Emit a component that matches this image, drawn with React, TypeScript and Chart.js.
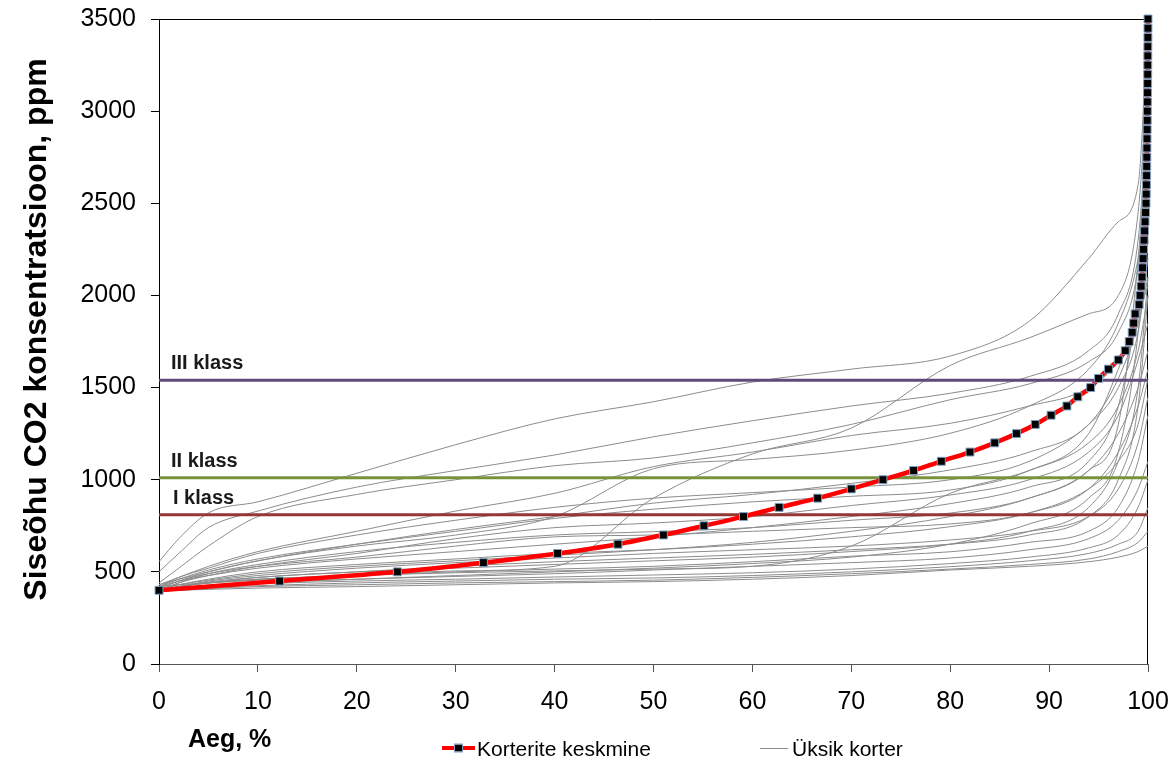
import React, { useEffect, useRef } from "react";
import { Chart, registerables } from "chart.js";

Chart.register(...registerables);

// ---- Data ----
const TIME_KNOTS = [0, 2, 5, 10, 20, 30, 40, 50, 60, 70, 80, 88, 94, 97, 99, 100];

const APT_01 = [555, 680, 820, 880, 1035, 1190, 1330, 1423, 1530, 1600, 1671, 1860, 2200, 2400, 2600, 3500];
const APT_02 = [500, 600, 740, 830, 960, 1050, 1134, 1233, 1320, 1400, 1469, 1560, 1700, 1900, 2300, 3000];
const APT_03 = [440, 520, 640, 800, 920, 1000, 1076, 1118, 1200, 1300, 1434, 1520, 1640, 1800, 2150, 2700];
const APT_04 = [430, 470, 530, 610, 720, 830, 926, 1071, 1150, 1240, 1306, 1400, 1500, 1650, 1900, 2300];
const APT_05 = [420, 430, 440, 455, 480, 505, 530, 900, 1140, 1280, 1620, 1770, 1900, 2000, 2450, 3200];
const APT_06 = [430, 460, 500, 560, 640, 700, 800, 1060, 1110, 1160, 1252, 1400, 1600, 1850, 2200, 2600];
const APT_07 = [420, 470, 520, 600, 700, 780, 850, 900, 930, 960, 1000, 1100, 1300, 1500, 1800, 2200];
const APT_08 = [410, 450, 500, 560, 650, 730, 800, 873, 920, 980, 1053, 1150, 1300, 1550, 1850, 2100];
const APT_09 = [420, 460, 510, 570, 650, 720, 790, 840, 880, 910, 944, 1050, 1250, 1600, 1900, 2050];
const APT_10 = [400, 440, 480, 530, 600, 680, 740, 765, 800, 860, 917, 1000, 1150, 1350, 1650, 1850];
const APT_11 = [400, 440, 490, 540, 610, 660, 700, 718, 740, 780, 819, 900, 1050, 1250, 1500, 1700];
const APT_12 = [410, 450, 490, 530, 580, 640, 690, 700, 720, 740, 760, 820, 950, 1150, 1400, 1600];
const APT_13 = [400, 420, 440, 460, 480, 495, 505, 515, 530, 640, 926, 1050, 1200, 1400, 1700, 2000];
const APT_14 = [400, 410, 425, 440, 460, 480, 500, 520, 545, 580, 650, 760, 900, 1150, 1800, 2500];
const APT_15 = [400, 430, 460, 500, 540, 570, 600, 620, 650, 690, 745, 820, 950, 1100, 1300, 1550];
const APT_16 = [400, 420, 450, 480, 520, 550, 575, 600, 620, 640, 673, 720, 800, 950, 1200, 1450];
const APT_17 = [400, 420, 440, 470, 500, 530, 555, 575, 595, 620, 650, 700, 800, 1000, 1400, 2000];
const APT_18 = [400, 420, 440, 460, 480, 500, 515, 530, 555, 585, 609, 660, 720, 850, 1100, 1350];
const APT_19 = [400, 410, 425, 440, 460, 475, 490, 510, 530, 550, 575, 620, 680, 780, 950, 1100];
const APT_20 = [400, 410, 420, 435, 450, 460, 472, 483, 495, 515, 545, 580, 630, 700, 850, 1000];
const APT_21 = [395, 405, 415, 425, 440, 450, 460, 467, 480, 500, 528, 560, 600, 650, 720, 850];
const APT_22 = [395, 400, 410, 420, 430, 440, 447, 455, 470, 490, 515, 540, 570, 610, 660, 720];
const APT_23 = [395, 400, 405, 412, 420, 430, 440, 447, 460, 480, 510, 530, 555, 580, 610, 640];
const APT_24 = [410, 430, 455, 490, 530, 560, 590, 620, 660, 720, 800, 900, 1050, 1300, 2200, 2900];
const APT_25 = [420, 450, 480, 520, 570, 610, 650, 690, 740, 800, 870, 960, 1100, 1400, 2000, 2600];
const APT_26 = [400, 420, 445, 470, 500, 520, 540, 560, 580, 610, 650, 720, 850, 1100, 1500, 2100];

const APARTMENTS = [
  APT_01, APT_02, APT_03, APT_04, APT_05, APT_06, APT_07, APT_08, APT_09,
  APT_10, APT_11, APT_12, APT_13, APT_14, APT_15, APT_16, APT_17, APT_18,
  APT_19, APT_20, APT_21, APT_22, APT_23, APT_24, APT_25, APT_26,
];

const MEAN_PPM = [
  400, 450, 500, 550, 600, 650, 700, 750, 800, 850, 900, 950, 1000, 1050, 1100, 1150,
  1200, 1250, 1300, 1350, 1400, 1450, 1500, 1550, 1600, 1650, 1700, 1750, 1800, 1850,
  1900, 1950, 2000, 2050, 2100, 2150, 2200, 2250, 2300, 2350, 2400, 2450, 2500, 2550,
  2600, 2650, 2700, 2750, 2800, 2850, 2900, 2950, 3000, 3050, 3100, 3150, 3200, 3250,
  3300, 3350, 3400, 3450, 3500,
];
const MEAN_TIME = [
  0, 12.2, 24.1, 32.8, 40.3, 46.4, 51.0, 55.1, 59.1, 62.7, 66.6, 70.0, 73.2, 76.3, 79.1, 82.0,
  84.5, 86.7, 88.6, 90.2, 91.8, 92.9, 94.2, 95.0, 96.0, 97.0, 97.7, 98.1, 98.4, 98.55,
  98.7, 99.1, 99.2, 99.3, 99.4, 99.45, 99.5, 99.55, 99.6, 99.65, 99.7, 99.75, 99.8, 99.82,
  99.84, 99.86, 99.87, 99.88, 99.89, 99.9, 99.91, 99.92, 99.93, 99.94, 99.95, 99.96, 99.97,
  99.975, 99.98, 99.985, 99.99, 99.995, 100,
];

const CLASS_NAMES = ["I klass", "II klass", "III klass"];
const CLASS_LEVELS = [810, 1010, 1540];
const CLASS_COLORS = ["#953735", "#77933c", "#604a7b"];

const X_MIN = 0;
const X_MAX = 100;
const X_STEP = 10;
const Y_MIN = 0;
const Y_MAX = 3500;
const Y_STEP = 500;

const X_TITLE = "Aeg, %";
const Y_TITLE = "Siseõhu CO2 konsentratsioon, ppm";
const MEAN_LABEL = "Korterite keskmine";
const APT_LABEL = "Üksik korter";

const FONT = "'Liberation Sans', Arial, sans-serif";
const GRAY = "#8c8c8c";

const overlayPlugin = {
  id: "overlay",
  beforeDatasetsDraw(chart: any) {
    const { ctx, chartArea: a } = chart;
    ctx.save();
    ctx.strokeStyle = "#000";
    ctx.lineWidth = 1;
    ctx.beginPath();
    ctx.moveTo(a.left, a.top + 0.5);
    ctx.lineTo(a.right, a.top + 0.5);
    ctx.moveTo(a.right - 0.5, a.top);
    ctx.lineTo(a.right - 0.5, a.bottom);
    ctx.stroke();
    ctx.restore();
  },
  afterDraw(chart: any) {
    const { ctx, chartArea: a, scales } = chart;
    const xs = scales.x;
    const ys = scales.y;
    ctx.save();
    // class labels
    ctx.fillStyle = "#1a1a1a";
    ctx.font = `bold 20px ${FONT}`;
    ctx.textAlign = "left";
    ctx.textBaseline = "alphabetic";
    CLASS_NAMES.forEach((name, i) => {
      const px = xs.getPixelForValue(X_MIN) + (i === 0 ? 14 : 12);
      const py = ys.getPixelForValue(CLASS_LEVELS[i]) - 11;
      ctx.fillText(name, px, py);
    });
    // y title
    ctx.save();
    ctx.translate(37, (a.top + a.bottom) / 2 - 12);
    ctx.rotate(-Math.PI / 2);
    ctx.font = `bold 32px ${FONT}`;
    ctx.fillStyle = "#000";
    ctx.textAlign = "center";
    ctx.textBaseline = "middle";
    ctx.fillText(Y_TITLE, 0, 0);
    ctx.restore();
    // x title
    ctx.font = `bold 25px ${FONT}`;
    ctx.fillStyle = "#000";
    ctx.textAlign = "left";
    ctx.textBaseline = "alphabetic";
    ctx.fillText(X_TITLE, 188, 747);
    // legend
    const ly = 748;
    ctx.strokeStyle = "#ff0000";
    ctx.lineWidth = 4;
    ctx.beginPath();
    ctx.moveTo(442, ly);
    ctx.lineTo(475, ly);
    ctx.stroke();
    ctx.fillStyle = "#000";
    ctx.fillRect(455, ly - 3.5, 7, 7);
    ctx.strokeStyle = "#7f9fbf";
    ctx.lineWidth = 1;
    ctx.strokeRect(454.5, ly - 4, 8, 8);
    ctx.font = `21px ${FONT}`;
    ctx.fillStyle = "#000";
    ctx.fillText(MEAN_LABEL, 477, 755.5);
    ctx.strokeStyle = GRAY;
    ctx.lineWidth = 1;
    ctx.beginPath();
    ctx.moveTo(760, ly + 0.5);
    ctx.lineTo(788, ly + 0.5);
    ctx.stroke();
    ctx.fillText(APT_LABEL, 792, 755.5);
    ctx.restore();
  },
};

export default function App() {
  const canvasRef = useRef<HTMLCanvasElement | null>(null);

  useEffect(() => {
    const canvas = canvasRef.current;
    if (!canvas) return;

    const aptSets = APARTMENTS.map((vals, i) => ({
      label: `${APT_LABEL} ${i + 1}`,
      data: vals.map((v, k) => ({ x: TIME_KNOTS[k], y: v })),
      borderColor: GRAY,
      borderWidth: 1,
      pointRadius: 0,
      cubicInterpolationMode: "monotone" as const,
      order: 3,
    }));

    const classSets = CLASS_LEVELS.map((lvl, i) => ({
      label: CLASS_NAMES[i],
      data: [
        { x: X_MIN, y: lvl },
        { x: X_MAX, y: lvl },
      ],
      borderColor: CLASS_COLORS[i],
      borderWidth: 3,
      pointRadius: 0,
      order: 2,
    }));

    const meanSet = {
      label: MEAN_LABEL,
      data: MEAN_PPM.map((v, k) => ({ x: MEAN_TIME[k], y: v })),
      borderColor: "#ff0000",
      borderWidth: 4.5,
      pointStyle: "rect" as const,
      pointRadius: 5.6,
      pointBackgroundColor: "#000",
      pointBorderColor: "#7f9fbf",
      pointBorderWidth: 1,
      cubicInterpolationMode: "monotone" as const,
      order: 1,
    };

    const chart = new Chart(canvas, {
      type: "line",
      data: { datasets: [meanSet, ...classSets, ...aptSets] as any },
      options: {
        responsive: false,
        animation: false,
        clip: false as any,
        layout: { padding: { top: 19, right: 23, left: 0, bottom: 0 } },
        plugins: {
          legend: { display: false },
          tooltip: { enabled: false },
        },
        scales: {
          x: {
            type: "linear",
            min: X_MIN,
            max: X_MAX,
            afterFit: (s: any) => {
              s.height = 96;
              s.paddingLeft = 0;
              s.paddingRight = 0;
            },
            ticks: {
              stepSize: X_STEP,
              color: "#000",
              font: { family: FONT, size: 25 },
              padding: 15,
              maxRotation: 0,
              callback: (v: any) => String(v),
            },
            grid: {
              drawOnChartArea: false,
              drawTicks: true,
              tickLength: 8,
              color: "#555",
            },
            border: { display: true, color: "#555", width: 1 },
          },
          y: {
            type: "linear",
            min: Y_MIN,
            max: Y_MAX,
            afterFit: (s: any) => {
              s.width = 159;
              s.paddingTop = 0;
              s.paddingBottom = 0;
            },
            ticks: {
              stepSize: Y_STEP,
              color: "#000",
              font: { family: FONT, size: 25 },
              padding: 15,
              callback: (v: any) => String(v),
            },
            grid: {
              drawOnChartArea: false,
              drawTicks: true,
              tickLength: 8,
              color: "#000",
            },
            border: { display: true, color: "#000", width: 1 },
          },
        },
      },
      plugins: [overlayPlugin],
    });

    return () => chart.destroy();
  }, []);

  return (
    <div style={{ position: "fixed", left: 0, top: 0, width: 1171, height: 760, background: "#fff" }}>
      <canvas ref={canvasRef} width={1171} height={760} style={{ display: "block" }} />
    </div>
  );
}
